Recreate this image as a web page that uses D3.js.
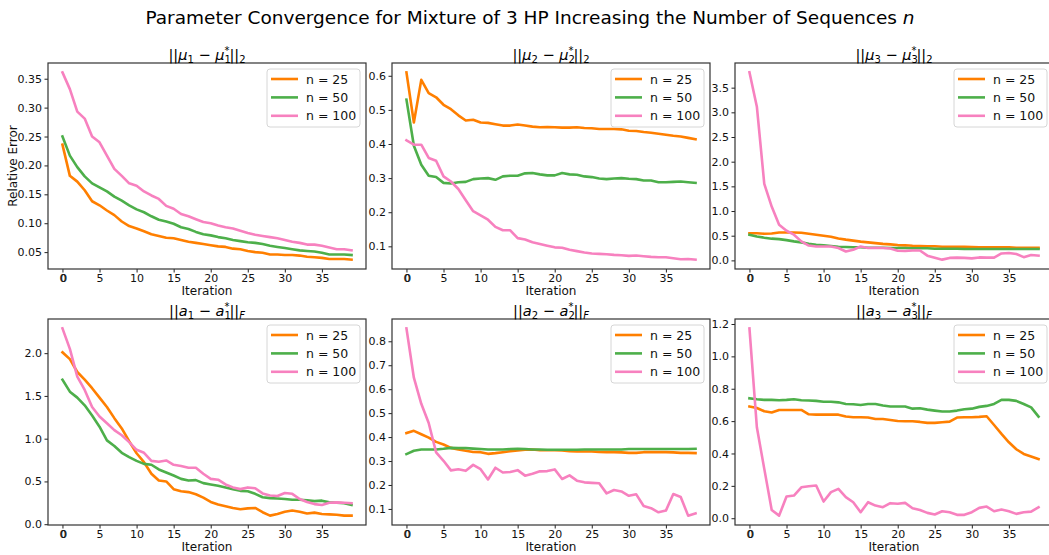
<!DOCTYPE html>
<html>
<head>
<meta charset="utf-8">
<script src="https://cdn.jsdelivr.net/npm/d3@7"></script>
<style>
  html, body { margin: 0; padding: 0; background: #fff; }
  svg { display: block; font-family: "DejaVu Sans", sans-serif; }
</style>
</head>
<body>
<svg id="chart" width="1049" height="555"></svg>
<script>
// ---------------- DATA ----------------
const iterations = [0,1,2,3,4,5,6,7,8,9,10,11,12,13,14,15,16,17,18,19,20,21,22,23,24,25,26,27,28,29,30,31,32,33,34,35,36,37,38,39];
const seriesNames = ["n = 25", "n = 50", "n = 100"];
const xTickValues = [0, 5, 10, 15, 20, 25, 30, 35];

// mu_1
const mu1_n25 = [0.236,0.182,0.172,0.157,0.138,0.131,0.122,0.114,0.103,0.095,0.091,0.086,0.081,0.078,0.075,0.074,0.071,0.068,0.066,0.064,0.062,0.060,0.059,0.056,0.055,0.052,0.050,0.049,0.046,0.046,0.045,0.045,0.044,0.042,0.041,0.040,0.038,0.038,0.038,0.037];
const mu1_n50 = [0.250,0.217,0.197,0.181,0.169,0.162,0.155,0.146,0.139,0.131,0.124,0.119,0.112,0.106,0.103,0.099,0.093,0.090,0.085,0.081,0.079,0.076,0.074,0.071,0.069,0.067,0.066,0.064,0.061,0.059,0.057,0.055,0.053,0.052,0.051,0.049,0.046,0.046,0.046,0.045];
const mu1_n100 = [0.361,0.332,0.293,0.281,0.250,0.240,0.217,0.194,0.182,0.169,0.165,0.155,0.148,0.142,0.130,0.125,0.116,0.112,0.107,0.102,0.100,0.096,0.093,0.091,0.087,0.083,0.080,0.078,0.076,0.074,0.071,0.068,0.066,0.063,0.063,0.061,0.058,0.055,0.055,0.053];

// mu_2
const mu2_n25 = [0.610,0.463,0.588,0.549,0.537,0.515,0.502,0.484,0.469,0.471,0.463,0.462,0.458,0.454,0.454,0.457,0.454,0.451,0.449,0.450,0.449,0.448,0.448,0.449,0.447,0.446,0.444,0.444,0.444,0.443,0.439,0.438,0.435,0.433,0.430,0.427,0.424,0.422,0.418,0.414];
const mu2_n50 = [0.530,0.395,0.339,0.307,0.303,0.286,0.284,0.288,0.289,0.297,0.299,0.300,0.295,0.305,0.307,0.307,0.314,0.315,0.311,0.308,0.308,0.315,0.311,0.310,0.305,0.303,0.299,0.297,0.299,0.300,0.298,0.297,0.293,0.293,0.288,0.288,0.289,0.290,0.288,0.286];
const mu2_n100 = [0.411,0.398,0.398,0.359,0.351,0.305,0.290,0.268,0.235,0.203,0.191,0.178,0.157,0.147,0.147,0.124,0.120,0.112,0.107,0.102,0.097,0.096,0.090,0.086,0.082,0.079,0.078,0.077,0.075,0.074,0.072,0.073,0.071,0.069,0.068,0.068,0.065,0.062,0.063,0.061];

// mu_3
const mu3_n25 = [0.550,0.550,0.540,0.545,0.565,0.565,0.565,0.560,0.540,0.520,0.500,0.480,0.445,0.420,0.400,0.380,0.365,0.350,0.335,0.325,0.310,0.305,0.295,0.290,0.285,0.285,0.275,0.275,0.275,0.275,0.270,0.265,0.265,0.265,0.265,0.265,0.255,0.255,0.255,0.255];
const mu3_n50 = [0.520,0.485,0.460,0.440,0.430,0.410,0.385,0.365,0.335,0.315,0.305,0.290,0.275,0.270,0.265,0.265,0.255,0.255,0.255,0.250,0.250,0.250,0.245,0.245,0.245,0.235,0.235,0.235,0.235,0.230,0.230,0.230,0.230,0.230,0.230,0.230,0.230,0.230,0.230,0.230];
const mu3_n100 = [3.810,3.115,1.550,1.090,0.720,0.600,0.520,0.385,0.300,0.280,0.280,0.280,0.250,0.180,0.215,0.280,0.250,0.255,0.250,0.240,0.195,0.190,0.200,0.200,0.095,0.055,0.015,0.050,0.055,0.050,0.040,0.060,0.055,0.055,0.140,0.150,0.130,0.065,0.110,0.095];

// a_1
const a1_n25 = [2.01,1.93,1.78,1.69,1.59,1.48,1.37,1.24,1.12,0.97,0.83,0.725,0.59,0.51,0.50,0.41,0.385,0.375,0.35,0.31,0.26,0.23,0.21,0.19,0.175,0.185,0.19,0.14,0.10,0.12,0.145,0.16,0.145,0.125,0.135,0.12,0.115,0.11,0.10,0.10];
const a1_n50 = [1.69,1.55,1.48,1.39,1.27,1.14,0.98,0.915,0.835,0.785,0.74,0.705,0.695,0.64,0.605,0.57,0.53,0.51,0.515,0.48,0.465,0.45,0.43,0.41,0.39,0.385,0.355,0.315,0.305,0.30,0.295,0.285,0.285,0.28,0.27,0.275,0.255,0.25,0.245,0.225];
const a1_n100 = [2.29,2.05,1.725,1.57,1.37,1.26,1.18,1.10,1.04,0.96,0.87,0.835,0.74,0.73,0.745,0.695,0.68,0.66,0.66,0.59,0.53,0.52,0.465,0.43,0.41,0.43,0.42,0.36,0.335,0.33,0.365,0.355,0.295,0.26,0.235,0.225,0.25,0.255,0.25,0.245];

// a_2
const a2_n25 = [0.417,0.426,0.412,0.398,0.380,0.369,0.355,0.348,0.343,0.338,0.337,0.330,0.333,0.337,0.341,0.344,0.347,0.348,0.345,0.345,0.345,0.344,0.341,0.340,0.340,0.340,0.338,0.337,0.337,0.336,0.334,0.334,0.337,0.337,0.337,0.337,0.336,0.334,0.334,0.333];
const a2_n50 = [0.329,0.343,0.348,0.348,0.348,0.351,0.355,0.354,0.354,0.352,0.350,0.348,0.348,0.348,0.350,0.351,0.350,0.348,0.348,0.347,0.347,0.347,0.347,0.347,0.348,0.348,0.348,0.348,0.348,0.348,0.350,0.350,0.350,0.350,0.350,0.350,0.350,0.350,0.350,0.351];
const a2_n100 = [0.854,0.648,0.539,0.459,0.336,0.301,0.261,0.266,0.259,0.284,0.266,0.223,0.272,0.252,0.254,0.262,0.239,0.247,0.257,0.258,0.265,0.225,0.240,0.218,0.211,0.209,0.207,0.165,0.179,0.173,0.155,0.161,0.112,0.103,0.086,0.093,0.162,0.150,0.072,0.081];

// a_3
const a3_n25 = [0.690,0.681,0.661,0.653,0.669,0.669,0.669,0.669,0.642,0.640,0.640,0.640,0.640,0.628,0.624,0.624,0.622,0.613,0.613,0.607,0.601,0.599,0.599,0.595,0.589,0.589,0.593,0.597,0.622,0.624,0.624,0.626,0.630,0.576,0.521,0.469,0.426,0.397,0.381,0.366];
const a3_n50 = [0.741,0.735,0.731,0.731,0.729,0.731,0.735,0.729,0.727,0.725,0.720,0.720,0.716,0.706,0.704,0.700,0.706,0.706,0.696,0.690,0.690,0.690,0.677,0.679,0.671,0.665,0.659,0.659,0.665,0.673,0.677,0.688,0.694,0.706,0.731,0.731,0.725,0.706,0.685,0.628];
const a3_n100 = [1.173,0.562,0.305,0.051,0.016,0.134,0.140,0.191,0.198,0.202,0.103,0.161,0.181,0.130,0.099,0.037,0.099,0.078,0.068,0.093,0.089,0.095,0.062,0.051,0.033,0.023,0.043,0.037,0.021,0.021,0.037,0.064,0.072,0.043,0.054,0.043,0.027,0.037,0.041,0.068];

// y tick labels per panel
const yTicks_mu1 = [0.05,0.10,0.15,0.20,0.25,0.30,0.35];
const yTicks_mu2 = [0.1,0.2,0.3,0.4,0.5,0.6];
const yTicks_mu3 = [0.0,0.5,1.0,1.5,2.0,2.5,3.0,3.5];
const yTicks_a1 = [0.0,0.5,1.0,1.5,2.0];
const yTicks_a2 = [0.1,0.2,0.3,0.4,0.5,0.6,0.7,0.8];
const yTicks_a3 = [0.0,0.2,0.4,0.6,0.8,1.0,1.2];

const colors = ["#ff7f00", "#4daf4a", "#f781bf"];

// ---------------- LAYOUT ----------------
const svg = d3.select("#chart");
svg.append("rect").attr("width", 1049).attr("height", 555).attr("fill", "#fff");

const panelW = 318, panelH = 206;
const lefts = [48, 392, 735];
const tops = [63, 319];

const panels = [
  {sym: "μ", idx: "1", norm: "2", series: [mu1_n25, mu1_n50, mu1_n100], ticks: yTicks_mu1, fmt: ".2f", col: 0, row: 0},
  {sym: "μ", idx: "2", norm: "2", series: [mu2_n25, mu2_n50, mu2_n100], ticks: yTicks_mu2, fmt: ".1f", col: 1, row: 0},
  {sym: "μ", idx: "3", norm: "2", series: [mu3_n25, mu3_n50, mu3_n100], ticks: yTicks_mu3, fmt: ".1f", col: 2, row: 0},
  {sym: "a", idx: "1", norm: "F", series: [a1_n25, a1_n50, a1_n100], ticks: yTicks_a1, fmt: ".1f", col: 0, row: 1},
  {sym: "a", idx: "2", norm: "F", series: [a2_n25, a2_n50, a2_n100], ticks: yTicks_a2, fmt: ".1f", col: 1, row: 1},
  {sym: "a", idx: "3", norm: "F", series: [a3_n25, a3_n50, a3_n100], ticks: yTicks_a3, fmt: ".1f", col: 2, row: 1}
];

svg.append("clipPath").attr("id", "figclip").append("rect").attr("width", 1049).attr("height", 555);
const root = svg.append("g").attr("clip-path", "url(#figclip)");

// Suptitle
const sup = root.append("text")
  .attr("x", 530).attr("y", 24)
  .attr("text-anchor", "middle")
  .attr("font-size", 18.5)
  .attr("fill", "#000");
sup.append("tspan").text("Parameter Convergence for Mixture of 3 HP Increasing the Number of Sequences ");
sup.append("tspan").attr("font-style", "italic").text("n");

panels.forEach((p, pi) => {
  const x0 = lefts[p.col], y0 = tops[p.row];
  const g = root.append("g").attr("transform", `translate(${x0},${y0})`);

  const first = iterations[0], last = iterations[iterations.length - 1];
  const x = d3.scaleLinear()
    .domain([first - 0.05 * (last - first), last + 0.05 * (last - first)])
    .range([0, panelW]);
  const all = p.series.flat();
  const mn = d3.min(all), mx = d3.max(all), pad = (mx - mn) * 0.05;
  const y = d3.scaleLinear().domain([mn - pad, mx + pad]).range([panelH, 0]);

  const line = d3.line().x((d, i) => x(iterations[i])).y(d => y(d));
  p.series.forEach((s, si) => {
    g.append("path").datum(s)
      .attr("d", line)
      .attr("fill", "none")
      .attr("stroke", colors[si])
      .attr("stroke-width", 2.6)
      .attr("stroke-linejoin", "round")
      .attr("stroke-linecap", "square");
  });

  const xAxis = d3.axisBottom(x).tickValues(xTickValues).tickSize(3.5).tickPadding(1.2).tickFormat(d3.format("d"));
  const gx = g.append("g").attr("transform", `translate(0,${panelH})`).call(xAxis);
  const yAxis = d3.axisLeft(y).tickValues(p.ticks).tickSize(3.5).tickPadding(2.5).tickFormat(d3.format(p.fmt));
  const gy = g.append("g").call(yAxis);
  [gx, gy].forEach(ax => {
    ax.select(".domain").remove();
    ax.selectAll(".tick line").attr("stroke", "#222").attr("stroke-width", 1);
    ax.selectAll(".tick text").attr("font-size", 11).attr("font-family", "DejaVu Sans, sans-serif").attr("fill", "#111");
  });
  // doubled "0" label as in the reference
  const zeroTick = gx.selectAll(".tick").filter(d => d === 0);
  zeroTick.append("text")
    .attr("fill", "#111").attr("font-size", 11).attr("font-family", "DejaVu Sans, sans-serif")
    .attr("x", 0.7).attr("y", 4.7).attr("dy", "0.71em").attr("text-anchor", "middle").text("0");

  g.append("rect").attr("width", panelW).attr("height", panelH)
    .attr("fill", "none").attr("stroke", "#333").attr("stroke-width", 1.2);

  g.append("text").attr("x", panelW / 2).attr("y", panelH + 26)
    .attr("text-anchor", "middle").attr("font-size", 12).attr("fill", "#111").text("Iteration");

  if (pi === 0) {
    g.append("text")
      .attr("transform", `translate(${-31},${panelH / 2}) rotate(-90)`)
      .attr("text-anchor", "middle").attr("font-size", 12).attr("fill", "#111").text("Relative Error");
  }

  const t = g.append("text").attr("x", panelW / 2).attr("y", -3.5)
    .attr("text-anchor", "middle").attr("font-size", 14.5).attr("fill", "#000");
  const parts = [
    {t: "||"}, {t: p.sym, it: true}, {t: p.idx, sub: true},
    {t: " − "}, {t: p.sym, it: true}, {t: p.idx, sub: true},
    {t: "*", sup: true, back: true}, {t: "||"}, {t: p.norm, sub: true, it: p.norm === "F"}
  ];
  let cur = 0, prevSub = null;
  parts.forEach(s => {
    const target = s.sub ? 3.5 : (s.sup ? -5.5 : 0);
    const ts = t.append("tspan").attr("dy", target - cur).text(s.t);
    cur = target;
    if (s.it) ts.attr("font-style", "italic");
    if (s.sub || s.sup) ts.attr("font-size", 10);
    if (s.back && prevSub) ts.attr("dx", -prevSub.node().getComputedTextLength());
    prevSub = s.sub ? ts : null;
  });

  const lw = 93, lh = 58;
  const lg = g.append("g").attr("transform", `translate(${panelW - 6 - lw},6)`);
  lg.append("rect").attr("width", lw).attr("height", lh).attr("rx", 3)
    .attr("fill", "#fff").attr("fill-opacity", 0.85).attr("stroke", "#d6d6d6").attr("stroke-width", 1);
  seriesNames.forEach((nm, si) => {
    const yy = 10 + si * 18.4;
    lg.append("line").attr("x1", 4).attr("x2", 31).attr("y1", yy).attr("y2", yy)
      .attr("stroke", colors[si]).attr("stroke-width", 2.6);
    lg.append("text").attr("x", 39).attr("y", yy).attr("dy", "0.36em")
      .attr("font-size", 12.5).attr("fill", "#111").text(nm);
  });
});
</script>
</body>
</html>
